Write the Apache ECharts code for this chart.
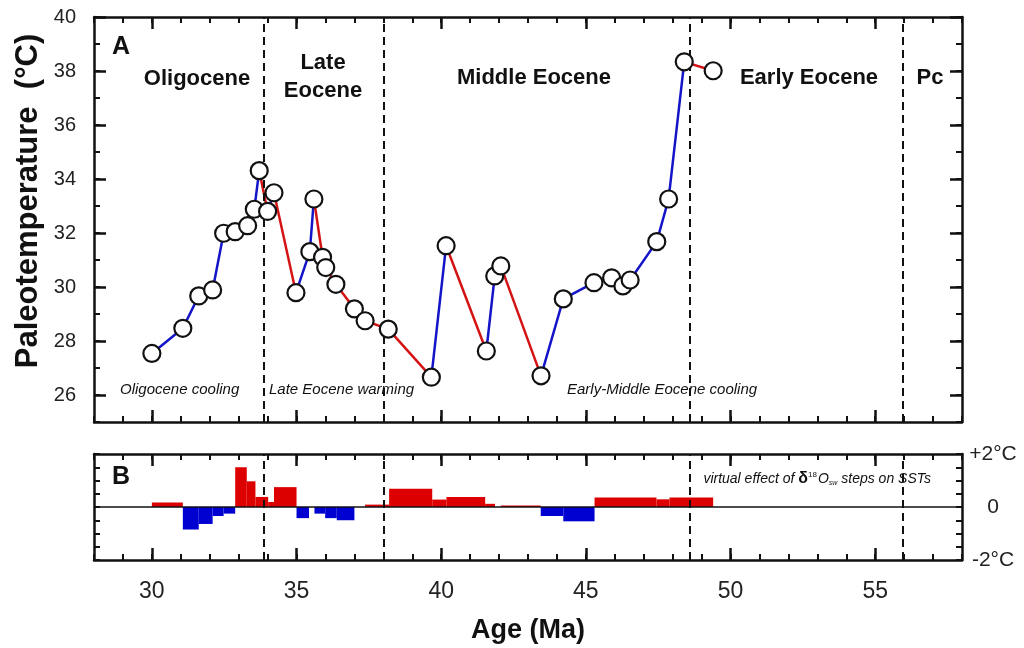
<!DOCTYPE html>
<html>
<head>
<meta charset="utf-8">
<script src="https://cdn.jsdelivr.net/npm/echarts@6/dist/echarts.min.js"></script>
<style>
html, body { margin: 0; padding: 0; background: #fff; }
#chart { width: 1024px; height: 648px; }
</style>
</head>
<body>
<div id="chart"></div>
<script>
// A: paleotemperature samples
var ages = [30.0, 31.07, 31.62, 32.1, 32.48, 32.88, 33.31, 33.54, 33.71, 34.0, 34.22, 34.98, 35.46, 35.6, 35.9, 36.01, 36.36, 37.0, 37.37, 38.17,
	39.66, 40.17, 41.56, 41.85, 42.06, 43.45, 44.22, 45.28, 45.89, 46.28, 46.53, 47.45, 47.86, 48.4, 49.4];
var temps = [27.54, 28.47, 29.67, 29.89, 31.99, 32.05, 32.27, 32.88, 34.31, 32.8, 33.49, 29.79, 31.31, 33.26, 31.1, 30.72, 30.1, 29.19, 28.75, 28.44,
	26.66, 31.53, 27.63, 30.41, 30.78, 26.71, 29.56, 30.16, 30.34, 30.04, 30.26, 31.68, 33.26, 38.34, 38.01];

// B: step effect bars
var barStart = [30.0, 31.07, 31.62, 32.1, 32.48, 32.88, 33.28, 33.58, 34.02, 34.22, 35.0, 35.62, 35.99, 36.39, 37.37, 38.2, 39.69, 40.18, 41.52, 42.06, 43.44, 44.22, 45.3, 47.44, 47.89];
var barEnd = [31.07, 31.62, 32.1, 32.48, 32.88, 33.28, 33.58, 34.02, 34.22, 35.0, 35.43, 35.99, 36.39, 37.0, 38.2, 39.69, 40.18, 41.52, 41.86, 43.44, 44.22, 45.3, 47.44, 47.89, 49.4];
var barValue = [0.17, -0.85, -0.64, -0.34, -0.25, 1.5, 0.97, 0.38, 0.19, 0.75, -0.42, -0.25, -0.42, -0.5, 0.09, 0.69, 0.28, 0.38, 0.12, 0.06, -0.34, -0.54, 0.36, 0.29, 0.36];

var boundaryAges = [33.85, 38.0, 48.6, 55.95];
var xTickLabels = [30, 35, 40, 45, 50, 55];
var yTickLabels = [26, 28, 30, 32, 34, 36, 38, 40];
var bTickLabels = [-2, 0, 2];

var FONT = '"Liberation Sans", Arial, sans-serif';
var BLUE = '#1414c8', RED = '#d41414';

// 分段上色
var blueLine = [], redLine = [];
for (var i = 0; i < ages.length - 1; i++) {
	var seg = [[ages[i], temps[i]], [ages[i + 1], temps[i + 1]], [ages[i + 1], null]];
	if (temps[i + 1] > temps[i]) blueLine = blueLine.concat(seg);
	else redLine = redLine.concat(seg);
}
var points = ages.map(function(a, k) { return [a, temps[k]]; });
var bars = barStart.map(function(s, k) { return [s, barEnd[k], barValue[k]]; });

function frameX(grid, withLabels) {
	var base = {
		gridIndex: grid, type: 'value', min: 28, max: 58, interval: 1,
		splitLine: { show: false }, axisLabel: { show: false }
	};
	var line = { show: true, onZero: false, lineStyle: { color: '#111', width: 2.5 } };
	var minor = { show: true, inside: true, length: 6, lineStyle: { color: '#111', width: 2 } };
	var major = { show: true, inside: true, length: 12, customValues: xTickLabels, lineStyle: { color: '#111', width: 2.5 } };
	var bottom = Object.assign({}, base, { position: 'bottom', axisLine: line, axisTick: minor });
	if (withLabels) {
		bottom.axisLabel = { show: true, customValues: xTickLabels, fontSize: 23, color: '#222', fontFamily: FONT, margin: 20 };
		bottom.name = 'Age (Ma)';
		bottom.nameLocation = 'middle';
		bottom.nameGap = 57;
		bottom.nameTextStyle = { fontSize: 27, fontWeight: 'bold', color: '#111', fontFamily: FONT };
	}
	return [
		bottom,
		Object.assign({}, base, { position: 'top', axisLine: line, axisTick: minor }),
		Object.assign({}, base, { position: 'bottom', axisLine: { show: false, onZero: false }, axisTick: major }),
		Object.assign({}, base, { position: 'top', axisLine: { show: false, onZero: false }, axisTick: major })
	];
}

var line = { show: true, onZero: false, lineStyle: { color: '#111', width: 2.5 } };
var yTick = { show: true, inside: true, length: 6, lineStyle: { color: '#111', width: 2 } };
var yMajor = { show: true, inside: true, length: 12, customValues: yTickLabels, lineStyle: { color: '#111', width: 2.5 } };
var yBase = { gridIndex: 0, type: 'value', min: 25, max: 40, interval: 1, splitLine: { show: false }, axisLabel: { show: false } };
var bBase = { gridIndex: 1, type: 'value', min: -2, max: 2, interval: 0.5, splitLine: { show: false }, axisLabel: { show: false } };

var yAxes = [
	Object.assign({}, yBase, {
		position: 'left', axisLine: line, axisTick: yTick,
		axisLabel: { show: true, customValues: yTickLabels, fontSize: 20, color: '#222', fontFamily: FONT, margin: 18 }
	}),
	Object.assign({}, yBase, { position: 'right', axisLine: line, axisTick: yTick }),
	Object.assign({}, yBase, { position: 'left', axisLine: { show: false }, axisTick: yMajor }),
	Object.assign({}, yBase, { position: 'right', axisLine: { show: false }, axisTick: yMajor }),
	Object.assign({}, bBase, { position: 'left', axisLine: line, axisTick: yTick }),
	Object.assign({}, bBase, {
		position: 'right', axisLine: line, axisTick: yTick,
		axisLabel: {
			show: true, customValues: bTickLabels, fontSize: 21, color: '#222', fontFamily: FONT, margin: 31, align: 'center',
			formatter: function(v) { return v > 0 ? '+' + v + '°C' : (v < 0 ? v + '°C' : '0'); }
		}
	})
];

var dashLines = {
	symbol: 'none', silent: true, label: { show: false },
	lineStyle: { type: [8, 5], color: '#111', width: 2 },
	data: boundaryAges.map(function(a) { return { xAxis: a }; })
};

function txt(s, x, y, font, align) {
	return {
		type: 'text', x: x, y: y, z: 50,
		style: { text: s, font: font, fill: '#111', align: align || 'center', verticalAlign: 'middle', lineHeight: 28 }
	};
}
var BOLD = 'bold 22px ' + FONT;
var ITAL = 'italic 15px ' + FONT;

var chart = echarts.init(document.getElementById('chart'));
chart.setOption({
	animation: false,
	backgroundColor: '#fff',
	grid: [
		{ left: 94, top: 17, width: 868, height: 405 },
		{ left: 94, top: 454, width: 868, height: 106 }
	],
	xAxis: frameX(0, false).concat(frameX(1, true)),
	yAxis: yAxes,
	series: [
		{ type: 'line', xAxisIndex: 0, yAxisIndex: 0, data: [], z: 1, markLine: dashLines },
		{ type: 'line', xAxisIndex: 4, yAxisIndex: 4, data: [], z: 1, markLine: dashLines },
		{
			type: 'line', xAxisIndex: 0, yAxisIndex: 0, data: blueLine, showSymbol: false, connectNulls: false, z: 3,
			lineStyle: { color: BLUE, width: 2.5 }
		},
		{
			type: 'line', xAxisIndex: 0, yAxisIndex: 0, data: redLine, showSymbol: false, connectNulls: false, z: 3,
			lineStyle: { color: RED, width: 2.5 }
		},
		{
			type: 'scatter', xAxisIndex: 0, yAxisIndex: 0, data: points, symbol: 'circle', symbolSize: 17, z: 5,
			itemStyle: { color: '#fff', borderColor: '#111', borderWidth: 2.2, opacity: 1 }
		},
		{
			type: 'custom', xAxisIndex: 4, yAxisIndex: 4, data: bars, z: 3,
			encode: { x: [0, 1], y: 2 },
			renderItem: function(params, api) {
				var p0 = api.coord([api.value(0), 0]);
				var p1 = api.coord([api.value(1), api.value(2)]);
				return {
					type: 'rect',
					shape: { x: p0[0], y: Math.min(p0[1], p1[1]), width: p1[0] - p0[0], height: Math.abs(p1[1] - p0[1]) },
					style: { fill: api.value(2) >= 0 ? '#dc0000' : '#0000d0' }
				};
			}
		},
		{
			type: 'line', xAxisIndex: 4, yAxisIndex: 4, data: [], z: 4,
			markLine: { symbol: 'none', silent: true, label: { show: false }, lineStyle: { type: 'solid', color: '#111', width: 1.5 }, data: [{ yAxis: 0 }] }
		}
	],
	graphic: [
		{
			type: 'text', x: 28, y: 201, rotation: Math.PI / 2, z: 50,
			style: { text: 'Paleotemperature  (°C)', font: 'bold 31px ' + FONT, fill: '#111', align: 'center', verticalAlign: 'middle' }
		},
		txt('A', 121, 47, 'bold 25px ' + FONT),
		txt('B', 121, 477, 'bold 25px ' + FONT),
		txt('Oligocene', 197, 79, BOLD),
		txt('Late\nEocene', 323, 77, BOLD),
		txt('Middle Eocene', 534, 78, BOLD),
		txt('Early Eocene', 809, 78, BOLD),
		txt('Pc', 930, 78, BOLD),
		txt('Oligocene cooling', 120, 390, ITAL, 'left'),
		txt('Late Eocene warming', 269, 390, ITAL, 'left'),
		txt('Early-Middle Eocene cooling', 567, 390, ITAL, 'left'),
		{
			type: 'text', x: 931, y: 479, z: 50,
			style: {
				text: '{i|virtual effect of }{d|δ}{s|18}{i|O}{b|sw}{i| steps on SSTs}',
				align: 'right', verticalAlign: 'middle',
				rich: {
					i: { font: 'italic 14px ' + FONT, fill: '#111' },
					d: { font: 'bold 16px ' + FONT, fill: '#111' },
					s: { font: '8px ' + FONT, fill: '#111', padding: [0, 1, 8, 0] },
					b: { font: 'italic 7px ' + FONT, fill: '#111', padding: [9, 0, 0, 0] }
				}
			}
		}
	]
});
</script>
</body>
</html>
